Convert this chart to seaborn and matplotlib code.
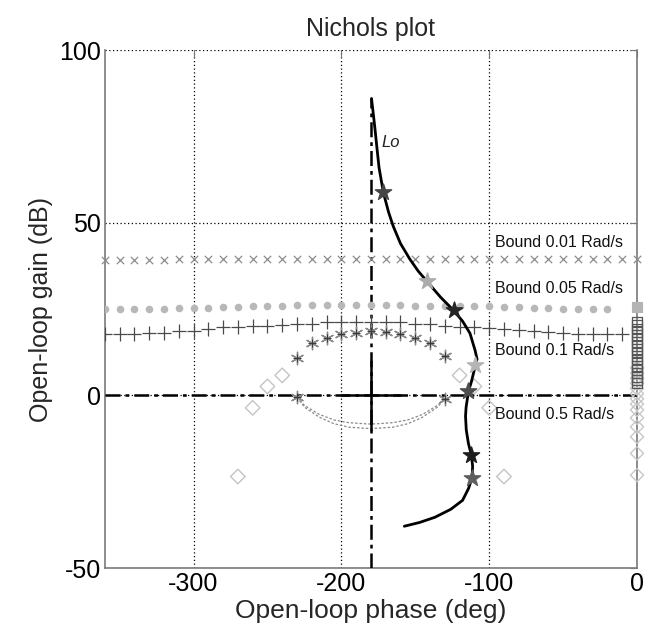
import numpy as np
import pandas as pd
import matplotlib
matplotlib.use("Agg")
import matplotlib.pyplot as plt
import seaborn as sns

# ---------------- data ----------------
# Open-loop transfer function Lo (phase deg, gain dB)
lo_phase = [-179.6, -178.5, -177.2, -176.0, -174.5, -171.6, -168.0, -164.9, -160.0, -153.7,
            -148.0, -142.0, -133.0, -124.0, -118.0, -113.0, -109.5, -108.2, -109.3, -112.0,
            -114.0, -115.6, -116.0, -115.5, -114.0, -112.0, -111.2, -111.6, -114.0, -118.0,
            -126.0, -136.7, -147.0, -157.4]
lo_gain = [86.0, 82.0, 77.0, 72.0, 66.0, 58.8, 53.0, 49.0, 44.0, 39.5,
           36.0, 33.0, 28.5, 24.6, 21.5, 18.0, 13.0, 10.5, 8.7, 4.0,
           1.2, -3.4, -6.0, -10.0, -14.0, -17.4, -20.5, -24.0, -27.0, -30.4,
           -33.0, -35.3, -36.8, -37.9]

# frequency stars on Lo
star_phase = [-171.6, -142.0, -124.0, -109.3, -114.0, -112.0, -111.6]
star_gain = [58.8, 33.0, 24.6, 8.7, 1.2, -17.4, -24.0]
star_colors = ["#454545", "#ababab", "#262626", "#b5b5b5", "#4d4d4d", "#1e1e1e", "#5e5e5e"]

# Bound 0.01 rad/s (x markers)
b001_phase = [-360, -350, -340, -330, -320, -310, -300, -290, -280, -270, -260, -250, -240,
              -230, -220, -210, -200, -190, -180, -170, -160, -150, -140, -130, -120, -110,
              -100, -90, -80, -70, -60, -50, -40, -30, -20, -10, 0]
b001_gain = [39.2, 39.2, 39.2, 39.2, 39.2, 39.5, 39.5, 39.5, 39.5, 39.5, 39.5, 39.5, 39.5,
             39.5, 39.5, 39.5, 39.5, 39.4, 39.4, 39.6, 39.6, 39.6, 39.6, 39.6, 39.6, 39.6,
             39.6, 39.6, 39.6, 39.6, 39.6, 39.6, 39.6, 39.6, 39.6, 39.6, 39.6]

# Bound 0.05 rad/s (filled circles)
b005_phase = [-360, -350, -340, -330, -320, -310, -300, -290, -280, -270, -260, -250, -240,
              -230, -220, -210, -200, -190, -180, -170, -160, -150, -140, -130, -120, -110,
              -100, -90, -80, -70, -60, -50, -40, -30, -20]
b005_gain = [24.9, 24.9, 24.9, 24.9, 24.9, 25.2, 25.2, 25.4, 25.7, 25.7, 25.9, 25.9, 26.0,
             26.3, 26.3, 26.3, 26.3, 26.3, 26.2, 26.1, 26.1, 25.9, 25.9, 25.9, 25.9, 25.9,
             25.8, 25.5, 25.5, 25.2, 25.2, 24.9, 24.9, 24.9, 24.9]

# Bound 0.1 rad/s (plus markers)
b01_phase = [-360, -350, -340, -330, -320, -310, -300, -290, -280, -270, -260, -250, -240,
             -230, -220, -210, -200, -190, -180, -170, -160, -150, -140, -130, -120, -110,
             -100, -90, -80, -70, -60, -50, -40, -30, -20, -10]
b01_gain = [17.9, 17.9, 17.9, 18.1, 18.1, 18.6, 18.6, 19.1, 19.7, 19.9, 20.1, 20.1, 20.4,
            20.6, 20.8, 21.3, 21.3, 21.3, 21.3, 21.3, 21.3, 20.8, 20.6, 20.1, 19.7, 19.7,
            19.4, 19.1, 18.9, 18.7, 18.4, 18.1, 17.9, 17.9, 17.9, 17.9]

# Inner closed bound (asterisks)
ast_phase = [-230, -230, -220, -210, -200, -190, -180, -170, -160, -150, -140, -130, -130]
ast_gain = [-0.5, 10.9, 15.3, 16.7, 17.9, 18.2, 18.6, 18.4, 17.9, 16.7, 15.3, 11.3, -1.0]

# Bound 0.5 rad/s (open diamonds)
b05_phase = [-270, -260, -250, -240, -120, -110, -100, -90]
b05_gain = [-23.5, -3.6, 2.6, 5.8, 5.8, 2.6, -3.6, -23.5]

# lower dotted arc of inner bound
arc_phase = [-230, -225, -215, -205, -195, -185, -180, -175, -165, -155, -145, -135, -130]
arc_gain1 = [-0.5, -2.9, -5.5, -7.1, -7.9, -8.2, -8.3, -8.2, -7.9, -7.1, -5.5, -2.9, -1.0]
arc_gain2 = [-0.5, -3.4, -6.3, -8.2, -9.2, -9.5, -9.6, -9.5, -9.2, -8.2, -6.3, -3.4, -1.0]

# Points piled up at phase 0
edge_sq_dark = [21.4, 20.4, 19.4, 18.4, 17.4, 16.4, 15.4, 14.4, 13.4, 12.4, 11.4, 10.4,
                9.4, 8.4, 7.4, 6.4, 5.4, 4.4, 3.5]
edge_sq_light = [25.6]
edge_diamond = [8.0, 6.5, 5.0, 3.5, 2.0, 0.5, -1.0, -2.5, -4.2, -6.5, -9.1, -12.0, -16.8, -23.1]

bound_labels = ["Bound 0.01 Rad/s", "Bound 0.05 Rad/s", "Bound 0.1 Rad/s", "Bound 0.5 Rad/s"]
bound_label_gain = [44.2, 31.0, 13.1, -5.5]

xticks = [-300, -200, -100, 0]
yticks = [-50, 0, 50, 100]

# ---------------- plot ----------------
sns.set_style("white")
plt.rcParams["font.family"] = ["Liberation Sans", "DejaVu Sans"]

fig = plt.figure(figsize=(6.51, 6.35), dpi=100)
ax = fig.add_axes([0.161, 0.1055, 0.8175, 0.8155])

ax.set_xlim(-360, 0)
ax.set_ylim(-50, 100)

DASHDOT = (0, (6, 2, 1.5, 2))

# reference lines
sns.lineplot(x=[-360, 0], y=[0, 0], ax=ax, color="black", lw=1.8,
             linestyle=DASHDOT, zorder=3, estimator=None, sort=False)
sns.lineplot(x=[-180, -180], y=[-50, 86], ax=ax, color="black", lw=1.8,
             linestyle=DASHDOT, zorder=3, estimator=None, sort=False)
sns.lineplot(x=[-200, -160], y=[0, 0], ax=ax, color="black", lw=1.8, zorder=3,
             estimator=None, sort=False)
sns.lineplot(x=[-180, -180], y=[-10, 10], ax=ax, color="black", lw=1.8, zorder=3,
             estimator=None, sort=False)

# dotted lower arc
for g in (arc_gain1, arc_gain2):
    sns.lineplot(x=arc_phase, y=g, ax=ax, color="#8a8a8a", lw=0.9,
                 linestyle=(0, (2, 1.5)), sort=False, estimator=None, zorder=2)

# bounds
sns.scatterplot(x=b001_phase, y=b001_gain, ax=ax, marker="x", color="#8c8c8c",
                s=28, linewidth=0.9, zorder=4, clip_on=False)
sns.scatterplot(x=b005_phase, y=b005_gain, ax=ax, marker="o", color="#b8b8b8",
                s=30, linewidth=0, zorder=4)
sns.scatterplot(x=b01_phase, y=b01_gain, ax=ax, marker="+", color="#4a4a4a",
                s=90, linewidth=0.9, zorder=4)
sns.scatterplot(x=ast_phase, y=ast_gain, ax=ax, marker=(6, 2, 0), color="#8a8a8a",
                s=80, linewidth=1.0, zorder=4)
sns.scatterplot(x=ast_phase, y=ast_gain, ax=ax, marker="+", color="#3a3a3a",
                s=30, linewidth=0.8, zorder=4)
ax.scatter(b05_phase, b05_gain, marker="D", s=55, facecolors="none",
           edgecolors="#c4c4c4", linewidths=1.0, zorder=4)

# pile at phase 0
ax.scatter([0] * len(edge_diamond), edge_diamond, marker="D", s=45, facecolors="none",
           edgecolors="#c8c8c8", linewidths=1.0, zorder=5, clip_on=False)
ax.scatter([0] * len(edge_sq_dark), edge_sq_dark, marker="s", s=50, facecolors="none",
           edgecolors="#555555", linewidths=0.9, zorder=5, clip_on=False)
ax.scatter([0] * len(edge_sq_light), edge_sq_light, marker="s", s=45, facecolors="#b4b4b4",
           edgecolors="#b4b4b4", linewidths=0.8, zorder=5, clip_on=False)

# Lo curve
sns.lineplot(x=lo_phase, y=lo_gain, ax=ax, color="black", lw=2.0, sort=False,
             estimator=None, zorder=6)
for px, gy, c in zip(star_phase, star_gain, star_colors):
    ax.scatter([px], [gy], marker="*", s=150, color=c, edgecolors=c, zorder=7)

ax.text(-173, 73.2, "Lo", fontsize=12, style="italic", ha="left", va="center", color="#222222")
for lab, gy in zip(bound_labels, bound_label_gain):
    ax.text(-96, gy, lab, fontsize=11.5, ha="left", va="center", color="#111111", zorder=8)

# axes cosmetics
ax.set_xticks(xticks)
ax.set_yticks(yticks)
ax.set_xticklabels([str(t) for t in xticks])
ax.set_yticklabels([str(t) for t in yticks])
ax.grid(True, linestyle=(0, (1, 2)), color="black", lw=0.9)
ax.tick_params(direction="in", length=5, width=0.8, colors="#777777",
               labelcolor="black", labelsize=18, top=True, right=True, pad=3)
for side in ("left", "right", "bottom"):
    ax.spines[side].set_color("#7a7a7a")
    ax.spines[side].set_linewidth(1.2)
    ax.spines[side].set_zorder(2.6)
ax.spines["top"].set_visible(False)

ax.set_title("Nichols plot", fontsize=18, pad=10)
ax.set_xlabel("Open-loop phase (deg)", fontsize=19, labelpad=2)
ax.set_ylabel("Open-loop gain (dB)", fontsize=18, labelpad=4)

fig.savefig("out.png", dpi=100)
